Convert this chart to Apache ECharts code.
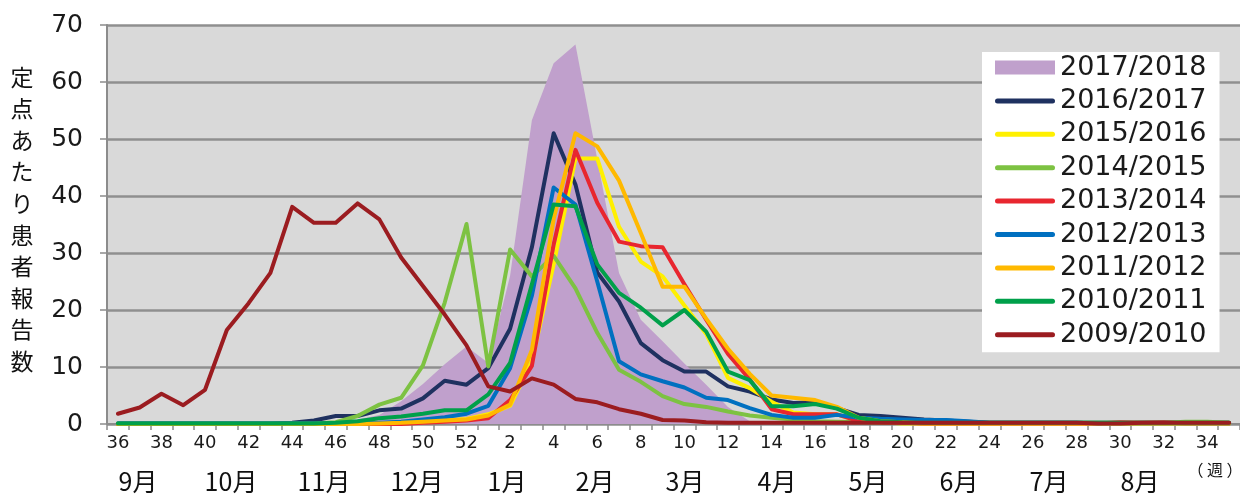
<!DOCTYPE html>
<html>
<head>
<meta charset="utf-8">
<script src="https://cdn.jsdelivr.net/npm/echarts@6/dist/echarts.min.js"></script>
<style>
  html, body { margin: 0; padding: 0; background: #fff; }
  #chart { width: 1240px; height: 499px; }
</style>
</head>
<body>
<div id="chart"></div>
<script>
// Week categories (season runs from week 36 to week 35 of the next year)
const weeks = [36,37,38,39,40,41,42,43,44,45,46,47,48,49,50,51,52,
  1,2,3,4,5,6,7,8,9,10,11,12,13,14,15,16,17,18,19,20,21,22,23,24,25,26,27,28,29,30,31,32,33,34,35].map(String);

const seriesNames = ['2017/2018','2016/2017','2015/2016','2014/2015','2013/2014','2012/2013','2011/2012','2010/2011','2009/2010'];

const s2017_2018 = [0,0,0,0,0,0,0,0,0,0,0.3,0.8,1.6,4.0,7.0,10.5,13.6,
  10.7,26.0,53.3,63.3,66.6,46.5,26.5,18.3,14.5,10.6,
  6.9,3.0,0.5,0,0,0,0,0,0,0,
  0,0,0,0,0,0,0,0,0,0,
  0,0,0,0,0];
const s2016_2017 = [0.1,0.1,0.1,0.1,0.1,0.1,0.1,0.1,0.2,0.6,1.4,1.4,2.4,2.7,4.5,7.6,6.9,
  9.8,16.7,31.0,51.0,42.0,26.6,21.5,14.2,11.2,9.2,
  9.2,6.6,5.7,4.3,3.7,3.8,2.8,1.6,1.4,1.1,
  0.8,0.6,0.4,0.2,0.2,0.2,0.2,0.2,0.2,0.2,
  0.2,0.2,0.2,0.2,0.2];
const s2015_2016 = [0,0,0,0,0,0,0,0,0,0,0,0,0,0.1,0.3,0.6,0.9,
  1.7,3.2,11.0,28.0,46.6,46.6,34.6,28.5,25.9,20.8,
  15.8,8.1,6.3,3.9,2.0,1.7,1.7,0.5,0.3,0.1,
  0.1,0.1,0.1,0.1,0.1,0.1,0.1,0.1,0.1,0.1,
  0.1,0.1,0.1,0.1,0.1];
const s2014_2015 = [0.1,0.1,0.1,0.1,0.1,0.1,0.1,0.1,0.1,0.1,0.3,1.4,3.4,4.6,10.3,21.3,35.1,
  10.1,30.6,25.9,29.5,23.8,16.0,9.5,7.4,4.9,3.5,
  3.0,2.2,1.5,1.1,0.8,0.5,0.4,0.3,0.2,0.2,
  0.2,0.2,0.2,0.2,0.2,0.2,0.2,0.2,0.2,0.2,
  0.2,0.2,0.4,0.4,0.2];
const s2013_2014 = [0,0,0,0,0,0,0,0,0,0,0,0,0,0,0.2,0.4,0.6,
  1.0,4.2,10.2,31.5,48.1,38.8,32.0,31.2,31.0,24.5,
  18.3,12.3,7.8,2.6,1.7,1.7,1.7,0.5,0.3,0.2,
  0.1,0.1,0.1,0.1,0.1,0.1,0.1,0.1,0.1,0.3,
  0.2,0.3,0.1,0.1,0.1];
const s2012_2013 = [0.1,0.1,0.1,0.1,0.1,0.1,0.1,0.1,0.1,0.1,0.1,0.1,0.2,0.4,0.8,1.2,1.8,
  3.2,9.8,22.5,41.5,38.5,25.0,11.0,8.7,7.5,6.4,
  4.6,4.2,2.8,1.6,1.1,1.1,1.6,1.1,0.9,0.8,
  0.7,0.7,0.5,0.2,0.2,0.2,0.2,0.2,0.1,0.1,
  0.1,0.1,0.1,0.1,0.1];
const s2011_2012 = [0,0,0,0,0,0,0,0,0,0,0,0,0.1,0.2,0.4,0.6,0.8,
  1.5,3.4,13.0,36.0,51.0,48.7,42.7,33.5,24.1,24.1,
  18.5,13.2,8.8,5.0,4.6,4.2,3.0,1.1,0.5,0.3,
  0.1,0.1,0.1,0.1,0.1,0.1,0.1,0.1,0.1,0.1,
  0.1,0.1,0.1,0.1,0.1];
const s2010_2011 = [0.1,0.1,0.1,0.1,0.1,0.1,0.1,0.1,0.1,0.1,0.2,0.5,1.0,1.3,1.8,2.4,2.4,
  5.2,10.7,24.5,38.5,38.2,28.0,23.0,20.4,17.3,20.0,
  16.2,9.2,7.7,3.1,3.1,3.5,2.7,1.1,0.5,0.3,
  0.2,0.2,0.2,0.2,0.2,0.2,0.2,0.2,0.2,0.2,
  0.2,0.2,0.2,0.2,0.2];
const s2009_2010 = [1.8,2.9,5.3,3.3,6.0,16.5,21.2,26.5,38.1,35.3,35.3,38.7,35.9,29.2,24.2,19.2,13.8,
  6.6,5.7,8.0,6.9,4.4,3.8,2.6,1.8,0.7,0.6,
  0.3,0.2,0.2,0.2,0.2,0.2,0.2,0.2,0.2,0.2,
  0.2,0.2,0.2,0.2,0.2,0.2,0.2,0.2,0.1,0.1,
  0.2,0.2,0.2,0.2,0.2];

const monthLabels = ['9月','10月','11月','12月','1月','2月','3月','4月','5月','6月','7月','8月'];
const yTitle = '定点あたり患者報告数';
const weekUnit = '（ 週 ）';

const seriesValues = [s2017_2018, s2016_2017, s2015_2016, s2014_2015, s2013_2014, s2012_2013, s2011_2012, s2010_2011, s2009_2010];
const colors = ['#C0A0CC','#1F3160','#FFF000','#7DC242','#E8262F','#0070C0','#FFB900','#00A04A','#9B1C20'];

const monthX = [138, 231, 324, 417, 507, 595, 685, 777, 868, 959, 1049, 1140];

const chart = echarts.init(document.getElementById('chart'));

const series = seriesNames.map((name, i) => {
  const base = {
    name: name,
    type: 'line',
    data: seriesValues[i],
    symbol: 'none',
    smooth: false,
    color: colors[i],
    animation: false
  };
  if (i === 0) {
    base.lineStyle = { width: 0, color: colors[i] };
    base.areaStyle = { color: colors[i], opacity: 1 };
    base.z = 1;
  } else {
    base.lineStyle = { width: 4, color: colors[i], join: 'round', cap: 'round' };
    base.z = 2 + i;
  }
  return base;
});

const graphics = [];
monthLabels.forEach((m, i) => {
  graphics.push({
    type: 'text', x: monthX[i], y: 481,
    style: { text: m, fontSize: 25, fontFamily: 'Noto Sans CJK JP', fill: '#111', align: 'center', verticalAlign: 'middle' }
  });
});
graphics.push({
  type: 'text', x: 22, y: 61,
  style: { text: yTitle.split('').join('\n'), fontSize: 23, lineHeight: 31.6, fontFamily: 'Noto Sans CJK JP', fill: '#111', align: 'center', verticalAlign: 'top' }
});
graphics.push({
  type: 'text', x: 1215, y: 470,
  style: { text: weekUnit, fontSize: 16, fontFamily: 'Noto Sans CJK JP', fill: '#111', align: 'center', verticalAlign: 'middle' }
});

const lineIcon = 'path://M2.5,0 L57.5,0 Q60,0 60,2.5 Q60,5 57.5,5 L2.5,5 Q0,5 0,2.5 Q0,0 2.5,0 Z';

chart.setOption({
  animation: false,
  grid: { left: 107, top: 25, right: -5, bottom: 75, show: true, backgroundColor: '#D9D9D9', borderWidth: 0 },
  legend: {
    orient: 'vertical', left: 982, top: 52,
    itemWidth: 60, itemHeight: 14, itemGap: 6.4, itemTextGap: 5,
    padding: [2, 13, 4, 13],
    backgroundColor: '#ffffff',
    textStyle: { fontFamily: 'DejaVu Sans', fontSize: 27, lineHeight: 27, color: '#1a1a1a' },
    data: seriesNames.map((n, i) => i === 0
      ? { name: n, icon: 'rect', itemStyle: { color: colors[i], borderWidth: 0 } }
      : { name: n, icon: lineIcon, itemStyle: { color: colors[i], borderWidth: 0 } })
  },
  xAxis: {
    type: 'category', data: weeks, boundaryGap: true,
    axisLine: { show: true, lineStyle: { color: '#8c8c8c', width: 2 } },
    axisTick: { show: true, interval: 0, length: 6, lineStyle: { color: '#8c8c8c', width: 1.5 } },
    axisLabel: { interval: 1, fontSize: 18, fontFamily: 'DejaVu Sans', color: '#1a1a1a', margin: 10 },
    splitLine: { show: false }
  },
  yAxis: {
    type: 'value', min: 0, max: 70, interval: 10,
    axisLine: { show: true, lineStyle: { color: '#8c8c8c', width: 2 } },
    axisTick: { show: true, length: 7, lineStyle: { color: '#8c8c8c', width: 1.5 } },
    axisLabel: { fontSize: 25, fontFamily: 'DejaVu Sans', color: '#1a1a1a', margin: 24 },
    splitLine: { show: true, lineStyle: { color: '#8f8f8f', width: 2.5 } }
  },
  graphic: graphics,
  series: series
});
</script>
</body>
</html>
